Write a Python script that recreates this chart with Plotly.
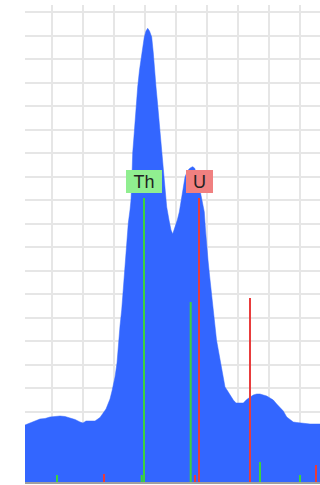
import plotly.graph_objects as go

# Spectrum: channel number vs. counts
channel = [0, 5, 10, 15, 20, 25, 30, 35, 40, 45, 50, 55, 58, 61, 65, 70, 75, 78, 81, 83,
           85, 87, 90, 92, 93.3, 95, 96.7, 98, 99.3, 100.5, 101.7, 103.3, 105, 106, 107,
           107.7, 109, 110, 111.5, 112.7, 114.5, 116.7, 119.3, 121, 122.7, 124.5, 126.7,
           128.3, 130, 131, 132.5, 134, 135.5, 136.7, 138, 139.3, 141.7, 144, 146, 147.7,
           150, 152.3, 154.3, 156, 158, 160, 162, 164, 166, 167.7, 169.5, 171, 173, 175,
           177, 179.3, 180.5, 181.5, 183, 184.5, 186, 187.5, 188.5, 190, 191.5, 193.3, 195,
           196.7, 198.5, 200, 202, 204, 206, 208.3, 211, 215, 218.3, 221.7, 225, 228.3,
           231.7, 235, 238.3, 241.7, 245, 248.3, 251.7, 255, 258.3, 261.7, 265, 268.3,
           271.7, 275, 278, 281.7, 285, 290, 295]
counts = [57, 59, 61, 63, 63.5, 65, 65.5, 66, 65.5, 64, 62.5, 60, 59, 61, 61, 61, 64.5, 69,
          73, 78, 83, 91, 105, 119, 139, 156, 172, 189, 205, 222, 239, 259, 272, 282, 307,
          329, 346, 362, 379, 395, 412, 429, 445, 451, 453.7, 451, 445, 429, 412, 395, 379,
          362, 345, 329, 312, 295, 275, 262, 252, 248, 254, 262, 270, 282, 295, 305, 310,
          313, 314.5, 315.3, 314, 310, 302, 292, 282, 270, 252, 237, 222, 207, 192, 179,
          170, 152, 142, 132, 122, 112, 102, 95, 92, 89, 85, 82, 79, 79, 79, 82.5, 85, 87,
          88, 88, 87, 86, 84, 82, 78, 75, 71, 65, 62.5, 60, 59.5, 59, 58.5, 58, 58, 58, 58]

# Reference emission lines (channel, relative intensity)
th_channel = [32, 116.7, 119, 165.7, 235, 275]
th_height = [7, 7, 284, 180, 20, 7]
u_channel = [79, 170, 174, 225, 291]
u_height = [8, 7, 284, 184, 17]

element_names = ["Th", "U"]
element_colors = ["rgb(60,210,60)", "rgb(232,60,60)"]
label_colors = ["rgb(144,238,144)", "rgb(240,128,128)"]
label_widths = [32, 23]

fig = go.Figure()

fig.add_trace(go.Scatter(
    x=channel, y=counts, mode="lines", fill="tozeroy",
    line=dict(color="#3366ff", width=0.5), fillcolor="#3366ff",
    hoverinfo="skip", showlegend=False,
))


def stems(xs, hs):
    sx, sy = [], []
    for x, h in zip(xs, hs):
        sx += [x, x, None]
        sy += [0, h, None]
    return sx, sy


for name, xs, hs, col, bg, w in zip(element_names, [th_channel, u_channel],
                                     [th_height, u_height], element_colors,
                                     label_colors, label_widths):
    sx, sy = stems(xs, hs)
    fig.add_trace(go.Scatter(x=sx, y=sy, mode="lines", line=dict(color=col, width=2),
                             hoverinfo="skip", showlegend=False, name=name))
    # label the strongest line of each element
    i = hs.index(max(hs))
    fig.add_annotation(x=xs[i], y=hs[i], text=name, showarrow=False,
                       xanchor="center", yanchor="bottom", yshift=5,
                       bgcolor=bg, bordercolor=bg, borderwidth=1, borderpad=1,
                       width=w, height=19,
                       font=dict(family="Liberation Sans, Arial, sans-serif",
                                 size=18, color="#222222"))

fig.update_xaxes(range=[0, 295], tick0=27.3, dtick=31, showticklabels=False,
                 ticks="", showgrid=True, gridcolor="#e6e6e6", gridwidth=2,
                 zeroline=False, showline=True, linecolor="#a0a0a0", linewidth=2)
fig.update_yaxes(range=[0, 477], tick0=0, dtick=23.5, showticklabels=False,
                 ticks="", showgrid=True, gridcolor="#e6e6e6", gridwidth=2,
                 zeroline=False, showline=False)

fig.update_layout(width=320, height=485, margin=dict(l=25, r=0, t=5, b=3),
                  paper_bgcolor="white", plot_bgcolor="white")

fig.write_html("out.html")
